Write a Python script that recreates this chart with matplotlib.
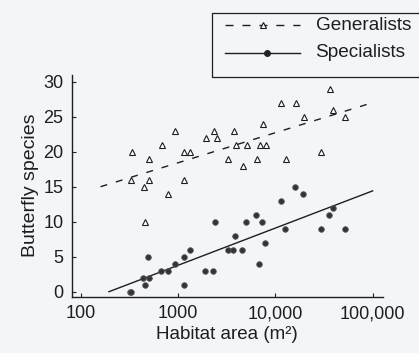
import matplotlib
matplotlib.use("Agg")
import matplotlib.pyplot as plt
from matplotlib.patches import Rectangle
from matplotlib.lines import Line2D

plt.rcParams['font.family'] = ['Liberation Sans', 'DejaVu Sans']

# Generalists (open triangles)
gen_area = [338, 501, 325, 445, 501, 463, 685, 940, 784, 1142, 1336, 1161,
            1950, 2355, 2506, 3800, 3303, 3927, 5085, 4632, 6444, 7535, 6970,
            8020, 11430, 16150, 12760, 19820, 29800, 36300, 39300, 51600]
gen_species = [20, 19, 16, 15, 16, 10, 21, 23, 14, 20, 20, 16,
               22, 23, 22, 23, 19, 21, 21, 18, 19, 24, 21,
               21, 27, 27, 19, 25, 20, 29, 26, 25]

# Specialists (filled dots)
spec_area = [318, 332, 463, 439, 501, 494, 670, 784, 925, 1142, 1336, 1142,
             1906, 2282, 2411, 3251, 3715, 3863, 4590, 5012, 6344, 7360, 6857,
             7839, 11350, 12570, 15890, 19360, 29380, 35400, 39260, 51640]
spec_species = [0, 0, 1, 2, 2, 5, 3, 3, 4, 5, 6, 1,
                3, 3, 10, 6, 6, 8, 6, 10, 11, 10, 4,
                7, 13, 9, 15, 14, 9, 11, 12, 9]

# Regression lines (end points)
gen_fit_x = [160, 100000]
gen_fit_y = [15.0, 27.0]
spec_fit_x = [195, 100000]
spec_fit_y = [0.0, 14.4]

xticks = [100, 1000, 10000, 100000]
xticklabels = ['100', '1000', '10,000', '100,000']
yticks = [0, 5, 10, 15, 20, 25, 30]

bg = '#f4f5f9'
ink = '#1e1e1e'
fs = 13

fig = plt.figure(figsize=(4.19, 3.53), dpi=100, facecolor=bg)
ax = fig.add_axes([0.1711, 0.1595, 0.743, 0.629])
ax.set_facecolor(bg)
ax.set_xscale('log')
ax.set_xlim(80.8, 128000)
ax.set_ylim(-0.71, 31)

dash = (0, (5, 6.5))
ax.plot(gen_fit_x, gen_fit_y, color=ink, lw=1.0, ls=dash)
ax.plot(spec_fit_x, spec_fit_y, color=ink, lw=1.0, ls='-')
ax.plot(gen_area, gen_species, ls='none', marker='^', ms=4.4, mfc='white',
        mec=ink, mew=0.8)
ax.plot(spec_area, spec_species, ls='none', marker='o', ms=4.0, mfc='#333333',
        mec='#555555', mew=0.6)

for s in ['top', 'right']:
    ax.spines[s].set_visible(False)
for s in ['left', 'bottom']:
    ax.spines[s].set_color(ink)
    ax.spines[s].set_linewidth(1.0)

ax.set_xticks(xticks)
ax.set_xticklabels(xticklabels)
ax.xaxis.set_minor_locator(matplotlib.ticker.NullLocator())
ax.set_yticks(yticks)
ax.tick_params(direction='in', length=3, width=0.8, colors=ink, labelsize=fs)
ax.tick_params(axis='x', pad=6)
ax.tick_params(axis='y', pad=6)
ax.set_xlabel('Habitat area (m²)', fontsize=13.5, color=ink, labelpad=3)
ax.set_ylabel('Butterfly species', fontsize=14, color=ink, labelpad=3)

# Legend (drawn manually in figure pixels)
W, H = 419.0, 353.0
def fx(px):
    return px / W
def fy(py):
    return (H - py) / H

fig.patches.append(Rectangle((fx(211.7), fy(77.3)), fx(430) - fx(211.7),
                             fy(13.3) - fy(77.3), transform=fig.transFigure,
                             fill=False, ec=ink, lw=0.9))
fig.add_artist(Line2D([fx(225), fx(300)], [fy(25), fy(25)], transform=fig.transFigure,
                      color=ink, lw=1.0, ls=(0, (5.8, 6.4))))
fig.add_artist(Line2D([fx(263)], [fy(25)], transform=fig.transFigure, ls='none',
                      marker='^', ms=4.4, mfc=bg, mec=ink, mew=0.8))
fig.add_artist(Line2D([fx(225), fx(300)], [fy(52.7), fy(52.7)], transform=fig.transFigure,
                      color=ink, lw=1.0, ls='-'))
fig.add_artist(Line2D([fx(266.7)], [fy(52.7)], transform=fig.transFigure, ls='none',
                      marker='o', ms=4.0, mfc='#222222', mec='#222222'))
fig.text(fx(315.5), fy(25), 'Generalists', fontsize=13.7, color=ink, va='center', ha='left')
fig.text(fx(315.5), fy(52.7), 'Specialists', fontsize=13.7, color=ink, va='center', ha='left')

fig.savefig('out.png', dpi=100, facecolor=bg)
